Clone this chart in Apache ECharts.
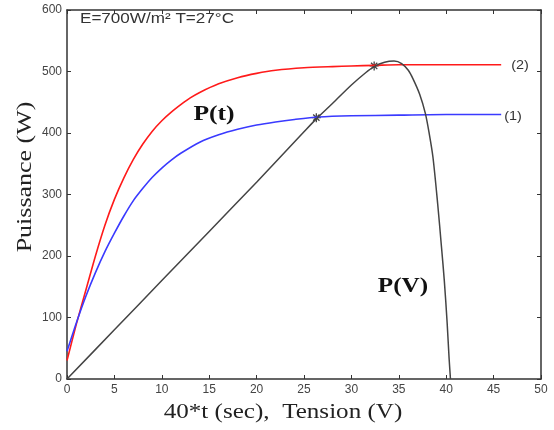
<!DOCTYPE html>
<html>
<head>
<meta charset="utf-8">
<script src="https://cdn.jsdelivr.net/npm/echarts@6/dist/echarts.min.js"></script>
<style>html,body{margin:0;padding:0;background:#fff;}#c{width:554px;height:430px;}</style>
</head>
<body>
<div id="c"></div>
<script>
// Curve (2): P(t), red
const redX = [0, 1, 2, 3, 4, 5, 6, 7, 8, 9, 10, 11, 12, 13, 14, 16, 18, 20, 22, 25, 28, 30, 32.5, 35, 40, 45.8];
const redY = [30, 90, 145, 200, 250, 292, 327, 357, 382, 403, 420, 434, 446, 457, 466, 480, 490, 497, 502, 506, 508, 509, 510, 511, 511, 511];
// Curve (1): P(t), blue
const blueX = [0, 1, 2, 3, 4, 5, 6, 7, 8, 9, 10, 11, 12, 14, 16, 18, 20, 22, 24, 26.5, 30, 35, 40, 45.8];
const blueY = [45, 92, 135, 173, 207, 237, 265, 290, 310, 328, 343, 356, 367, 385, 397, 406, 413, 418, 422, 426, 428, 429, 430, 430];
// P(V), black
const pvX = [0, 5, 10, 15, 20, 25, 26.3, 28, 30, 31.5, 32.4, 33.5, 34.5, 35.3, 36, 36.5, 37.2, 37.8, 38.2, 38.6, 39.1, 39.5, 39.8, 40.1, 40.3, 40.45];
const pvY = [0, 80, 160, 240, 320, 402, 423, 448, 478, 498, 508, 515, 517, 513, 502, 488, 463, 432, 400, 361, 285, 215, 160, 91, 35, 0];
// Operating points (stars)
const starX = [26.3, 32.4];
const starY = [425, 509];
// Axis ticks
const xTicks = [0, 5, 10, 15, 20, 25, 30, 35, 40, 45, 50];
const yTicks = [0, 100, 200, 300, 400, 500, 600];

const zip = (a, b) => a.map((v, i) => [v, b[i]]);
const chart = echarts.init(document.getElementById('c'));
const axisCol = '#333';
const tickLabel = { color: '#444', fontFamily: 'Liberation Sans, Arial', fontSize: 12 };
const frameAxis = (pos) => ({
  type: 'value', position: pos, min: 0, max: pos === 'top' ? 50 : 600, interval: pos === 'top' ? 5 : 100,
  axisLine: { show: true, onZero: false, lineStyle: { color: axisCol, width: 1.5 } },
  axisTick: { show: true, inside: true, length: 4, lineStyle: { color: axisCol } },
  axisLabel: { show: false }, splitLine: { show: false }
});
chart.setOption({
  animation: false,
  grid: { left: 67, right: 13, top: 10, bottom: 51 },
  xAxis: [{
    type: 'value', min: xTicks[0], max: xTicks[xTicks.length - 1], interval: 5,
    axisLine: { onZero: false, lineStyle: { color: axisCol, width: 1.5 } },
    axisTick: { inside: true, length: 4, lineStyle: { color: axisCol } },
    axisLabel: Object.assign({ margin: 5 }, tickLabel),
    splitLine: { show: false }
  }, frameAxis('top')],
  yAxis: [{
    type: 'value', min: yTicks[0], max: yTicks[yTicks.length - 1], interval: 100,
    axisLine: { show: true, onZero: false, lineStyle: { color: axisCol, width: 1.5 } },
    axisTick: { show: true, inside: true, length: 4, lineStyle: { color: axisCol } },
    axisLabel: Object.assign({ margin: 5 }, tickLabel),
    splitLine: { show: false }
  }, frameAxis('right')],
  series: [
    { type: 'line', data: zip(redX, redY), showSymbol: false, smooth: 0.25,
      lineStyle: { color: '#ff1a1a', width: 1.6 } },
    { type: 'line', data: zip(blueX, blueY), showSymbol: false, smooth: 0.25,
      lineStyle: { color: '#3a3aff', width: 1.6 } },
    { type: 'line', data: zip(pvX, pvY), showSymbol: false, smooth: 0.3,
      lineStyle: { color: '#444', width: 1.5 } },
    { type: 'scatter', data: zip(starX, starY),
      symbol: 'path://M0,-5L0,5M-5,0L5,0M-3.5,-3.5L3.5,3.5M-3.5,3.5L3.5,-3.5', symbolSize: 9,
      itemStyle: { color: 'none', borderColor: '#111', borderWidth: 1.3 } }
  ],
  graphic: [
    { type: 'text', x: 80, y: 19, scaleX: 1.22,
      style: { text: 'E=700W/m² T=27°C', fill: '#333', font: '14px "Liberation Sans", Arial', verticalAlign: 'middle' } },
    { type: 'text', x: 214, y: 115, scaleX: 1.22, style: { text: 'P(t)', fill: '#111', font: 'bold 21px "Liberation Serif"', align: 'center', verticalAlign: 'middle' } },
    { type: 'text', x: 403, y: 287, scaleX: 1.2, style: { text: 'P(V)', fill: '#111', font: 'bold 21px "Liberation Serif"', align: 'center', verticalAlign: 'middle' } },
    { type: 'text', x: 520, y: 66, scaleX: 1.2, style: { text: '(2)', fill: '#333', font: '12px "Liberation Sans", Arial', align: 'center', verticalAlign: 'middle' } },
    { type: 'text', x: 513, y: 117, scaleX: 1.2, style: { text: '(1)', fill: '#333', font: '12px "Liberation Sans", Arial', align: 'center', verticalAlign: 'middle' } },
    { type: 'text', x: 283, y: 412, scaleX: 1.14, style: { text: '40*t (sec),  Tension (V)', fill: '#222', font: '22px "Liberation Serif"', align: 'center', verticalAlign: 'middle' } },
    { type: 'text', x: 25, y: 177, rotation: Math.PI / 2, scaleX: 1.18, style: { text: 'Puissance (W)', fill: '#222', font: '22px "Liberation Serif"', align: 'center', verticalAlign: 'middle' } }
  ]
});
</script>
</body>
</html>
